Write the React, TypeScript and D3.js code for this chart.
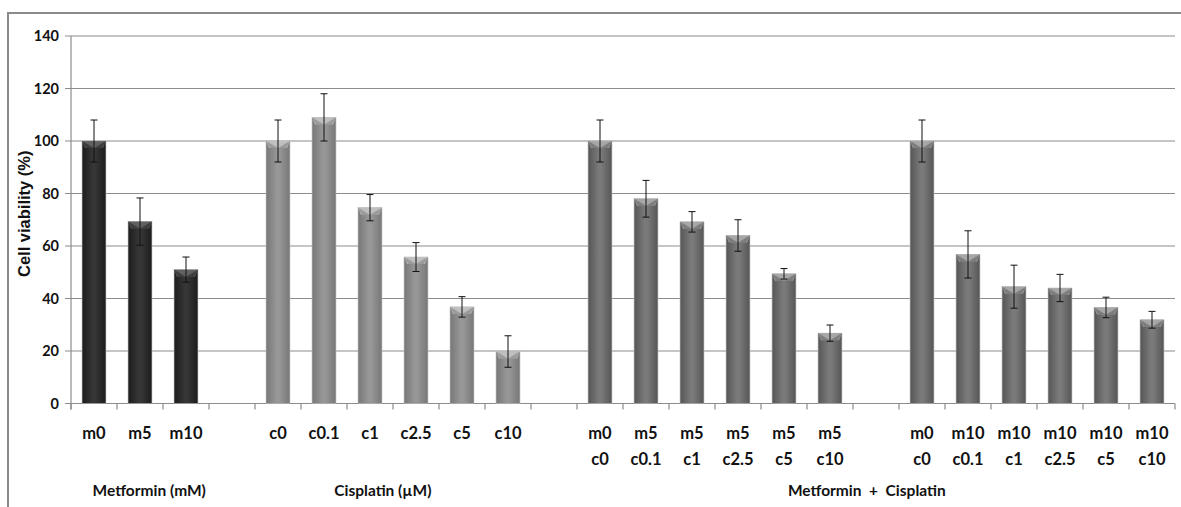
import React from "react";
import * as d3 from "d3";

const line1 = ["m0", "m5", "m10", "c0", "c0.1", "c1", "c2.5", "c5", "c10", "m0", "m5", "m5", "m5", "m5", "m5", "m0", "m10", "m10", "m10", "m10", "m10"];
const line2 = ["", "", "", "", "", "", "", "", "", "c0", "c0.1", "c1", "c2.5", "c5", "c10", "c0", "c0.1", "c1", "c2.5", "c5", "c10"];
const values = [100, 69.3, 51, 100, 109, 74.6, 55.8, 36.8, 19.8, 100, 78, 69.2, 64, 49.4, 26.8, 100, 56.8, 44.5, 44, 36.6, 31.9];
const errors = [8, 9, 4.8, 8, 9, 5, 5.5, 3.9, 6, 8, 7, 3.9, 6, 2, 3.1, 8, 9, 8.2, 5.2, 3.9, 3.2];
const groups = [0, 0, 0, 1, 1, 1, 1, 1, 1, 2, 2, 2, 2, 2, 2, 2, 2, 2, 2, 2, 2];
// slot index on the category axis (gaps at 3, 10, 17)
const slots = [0, 1, 2, 4, 5, 6, 7, 8, 9, 11, 12, 13, 14, 15, 16, 18, 19, 20, 21, 22, 23];
const yTicks = [0, 20, 40, 60, 80, 100, 120, 140];
const groupTitles = ["Metformin (mM)", "Cisplatin (\u00b5M)", "Metformin  +  Cisplatin"];
const groupTitleSlot = [1.7, 6.78, 17.3];

const W = 1181;
const H = 507;
const left = 71;
const right = 1175;
const top = 36;
const bottom = 403.5;

const colors = [
  { edge: "#1c1c1c", mid: "#363636", cap: "#6a6a6a" },
  { edge: "#777777", mid: "#979797", cap: "#c8c8c8" },
  { edge: "#565656", mid: "#7a7a7a", cap: "#b0b0b0" },
];

const App: React.FC = () => {
  const x = d3
    .scaleBand<number>()
    .domain(d3.range(24))
    .range([left, right])
    .paddingInner(0.48)
    .paddingOuter(0.24);
  const slotX = d3.scaleLinear().domain([0, 24]).range([left, right]);
  const y = d3.scaleLinear().domain([0, 140]).range([bottom, top]);
  const bw = x.bandwidth();
  const font = "Lato, 'Open Sans', sans-serif";

  return (
    <svg width={W} height={H} style={{ position: "absolute", left: 0, top: 0, background: "#fff" }}>
      <defs>
        {colors.map((c, i) => (
          <linearGradient key={i} id={`g${i}`} x1="0" x2="1" y1="0" y2="0">
            <stop offset="0" stopColor={c.edge} />
            <stop offset="0.45" stopColor={c.mid} />
            <stop offset="0.55" stopColor={c.mid} />
            <stop offset="1" stopColor={c.edge} />
          </linearGradient>
        ))}
      </defs>

      {/* outer frame */}
      <path d={`M8,${H} L8,13 L${W},13`} fill="none" stroke="#8a8a8a" strokeWidth={2} />

      {/* gridlines */}
      {yTicks.map((t) => (
        <g key={t}>
          <line x1={left - 6} x2={right} y1={y(t)} y2={y(t)} stroke="#8c8c8c" strokeWidth={1.2} />
          <text
            x={left - 12}
            y={y(t)}
            dy="0.35em"
            textAnchor="end"
            fontFamily={font}
            fontWeight="bold"
            fontSize={14.5}
            fill="#111"
          >
            {t}
          </text>
        </g>
      ))}

      {/* y axis */}
      <line x1={left} x2={left} y1={top} y2={bottom + 6} stroke="#8c8c8c" strokeWidth={1.2} />
      {d3.range(25).map((i) => (
        <line key={i} x1={slotX(i)} x2={slotX(i)} y1={bottom} y2={bottom + 6} stroke="#8c8c8c" strokeWidth={1.2} />
      ))}

      {/* bars */}
      {values.map((v, i) => {
        const bx = x(slots[i])!;
        const by = y(v);
        const c = colors[groups[i]];
        return (
          <g key={i}>
            <rect x={bx} y={by} width={bw} height={bottom - by} fill={`url(#g${groups[i]})`} stroke="#bbb" strokeWidth={0.6} />
            <polygon
              points={`${bx},${by} ${bx + bw},${by} ${bx + bw - 3},${by + 7} ${bx + 3},${by + 7}`}
              fill={c.cap}
              opacity={0.85}
            />
            <polygon
              points={`${bx},${by} ${bx + 4},${by + 7} ${bx + bw / 2},${by + 7} `}
              fill={c.edge}
              opacity={0.5}
            />
            <polygon
              points={`${bx + bw},${by} ${bx + bw - 4},${by + 7} ${bx + bw / 2},${by + 7} `}
              fill={c.edge}
              opacity={0.5}
            />
          </g>
        );
      })}

      {/* error bars */}
      {values.map((v, i) => {
        const cx = x(slots[i])! + bw / 2;
        const y1 = y(v + errors[i]);
        const y2 = y(v - errors[i]);
        return (
          <g key={i} stroke="#111" strokeWidth={1}>
            <line x1={cx} x2={cx} y1={y1} y2={y2} />
            <line x1={cx - 3.5} x2={cx + 3.5} y1={y1} y2={y1} />
            <line x1={cx - 3.5} x2={cx + 3.5} y1={y2} y2={y2} />
          </g>
        );
      })}

      {/* category labels */}
      {line1.map((l, i) => {
        const cx = x(slots[i])! + bw / 2;
        return (
          <text key={i} textAnchor="middle" fontFamily={font} fontWeight="bold" fontSize={16.5} fill="#111">
            <tspan x={cx} y={439}>
              {l}
            </tspan>
            {line2[i] && (
              <tspan x={cx} y={465}>
                {line2[i]}
              </tspan>
            )}
          </text>
        );
      })}

      {/* group titles */}
      {groupTitles.map((g, i) => (
        <text
          key={g}
          x={slotX(groupTitleSlot[i])}
          y={496}
          textAnchor="middle"
          fontFamily={font}
          fontWeight="bold"
          fontSize={15.5}
          fill="#111"
          style={{ whiteSpace: "pre" }}
        >
          {g}
        </text>
      ))}

      {/* y title */}
      <text
        transform={`translate(30,${(top + bottom) / 2 - 6}) rotate(-90)`}
        textAnchor="middle"
        fontFamily="'Liberation Sans', Arial, sans-serif"
        fontWeight="bold"
        fontSize={16.5}
        fill="#111"
      >
        Cell viability (%)
      </text>
    </svg>
  );
};

export default App;
